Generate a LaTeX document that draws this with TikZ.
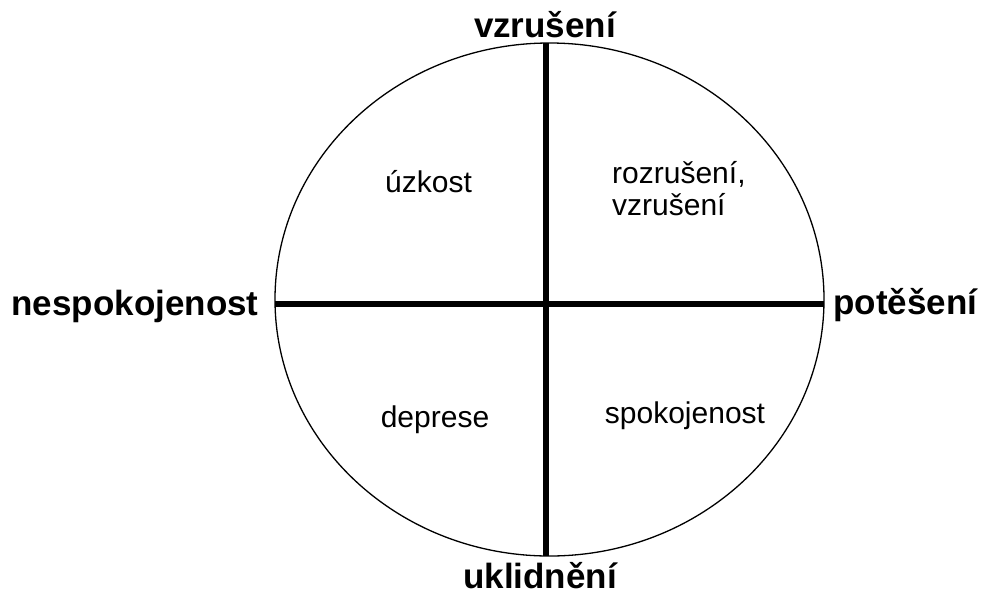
\documentclass[tikz,border=0pt]{standalone}
\usepackage{fontspec}
\setmainfont{Liberation Sans}
\usetikzlibrary{shapes.geometric}
\begin{document}
\begin{tikzpicture}[x=1pt,y=-1pt,
  axisline/.style={line width=5.5pt},
  circleline/.style={line width=1.3pt},
  pole/.style={font=\fontsize{35}{40}\selectfont\bfseries, inner sep=0pt, anchor=base},
  quad/.style={font=\fontsize{30}{32}\selectfont, inner sep=0pt, anchor=base}]
\useasboundingbox[fill=white] (0,0) rectangle (981,595);
\node[circleline, draw, ellipse, minimum width=549pt, minimum height=513pt, inner sep=0pt] (E) at (549.5,299.5) {};
\coordinate (T) at (546,43);
\coordinate (B) at (546,556);
\coordinate (L) at (275,304);
\coordinate (R) at (824,304);
\draw[axisline] (T) -- (B);
\draw[axisline] (L) -- (R);
\node[pole] (top) at (545,37) {vzrušení};
\node[pole] (bottom) at (540,588) {uklidnění};
\node[pole] (left) at (135,315) {nespokojenost};
\node[pole] (right) at (905.5,314) {potěšení};
\node[quad] (q1) at (428.5,192) {úzkost};
\node[quad, anchor=base west, align=left] (q2) at (612,215) {rozrušení,\\vzrušení};
\node[quad] (q3) at (435,427) {deprese};
\node[quad] (q4) at (685,423) {spokojenost};
\end{tikzpicture}
\end{document}
